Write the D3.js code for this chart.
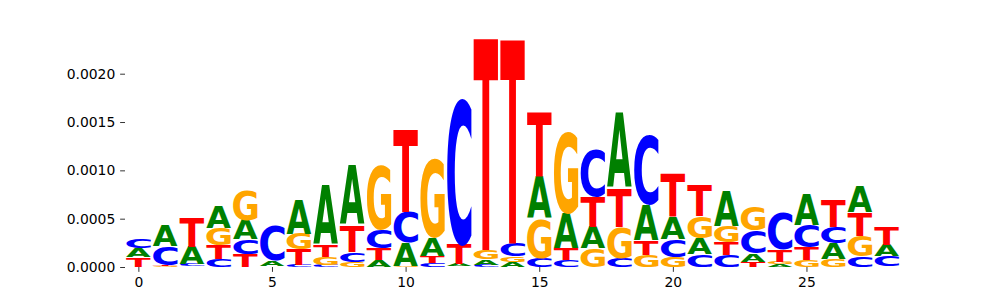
<!DOCTYPE html>
<html>
<head>
<meta charset="utf-8">
<script src="https://cdn.jsdelivr.net/npm/d3@7"></script>
<style>
  body { margin: 0; background: #fff; }
  svg { display: block; }
  .tick text { font-family: "DejaVu Sans", sans-serif; font-size: 13.9px; fill: #000; }
  .tick line { stroke: #000; stroke-width: 0.8px; }
</style>
</head>
<body>
<div id="chart"></div>
<script>
// letter heights per position
const positions = d3.range(29);
const letters = ["A", "C", "G", "T"];
const valsA = [0.000097, 0.000217, 0.000186, 0.000224, 0.000199, 0.000055, 0.000351, 0.000619, 0.000619, 0.000072,
               0.000244, 0.000189, 0.000021, 0.000059, 0.000048, 0.000436, 0.000361, 0.000224, 0.000780, 0.000361,
               0.000234, 0.000165, 0.000371, 0.000086, 0.000026, 0.000327, 0.000165, 0.000268, 0.000121];
const valsC = [0.000099, 0.000196, 0.000021, 0.000079, 0.000155, 0.000361, 0.000021, 0.000021, 0.000103, 0.000189,
               0.000315, 0.000038, 0.001529, 0.000021, 0.000137, 0.000090, 0.000072, 0.000488, 0.000090, 0.000722,
               0.000178, 0.000131, 0.000124, 0.000240, 0.000395, 0.000230, 0.000172, 0.000113, 0.000106];
const valsG = [0.000003, 0.000010, 0.000005, 0.000182, 0.000309, 0.000003, 0.000162, 0.000086, 0.000055, 0.000670,
               0.000010, 0.000825, 0.000005, 0.000096, 0.000059, 0.000412, 0.000859, 0.000193, 0.000327, 0.000124,
               0.000106, 0.000230, 0.000162, 0.000247, 0.000029, 0.000072, 0.000079, 0.000206, 0.000005];
const valsT = [0.000096, 0.000010, 0.000299, 0.000144, 0.000131, 0.000005, 0.000158, 0.000121, 0.000275, 0.000121,
               0.000860, 0.000069, 0.000206, 0.002214, 0.002131, 0.000670, 0.000121, 0.000309, 0.000395, 0.000155,
               0.000446, 0.000320, 0.000137, 0.000055, 0.000121, 0.000131, 0.000292, 0.000247, 0.000189];
const yTicks = [0, 0.0005, 0.0010, 0.0015, 0.0020];
const xTicks = [0, 5, 10, 15, 20, 25];

const colors = { A: "#008000", C: "#0000ff", G: "#ffa500", T: "#ff0000" };
const series = { A: valsA, C: valsC, G: valsG, T: valsT };

const width = 1000, height = 300;
const margin = { left: 125, right: 100, top: 36, bottom: 33 };

// stack letters at each position, smallest at the bottom
const glyphs = [];
positions.forEach(i => {
    const col = letters.map(l => ({ letter: l, value: series[l][i] }))
        .sort((a, b) => a.value - b.value);
    let floor = 0;
    col.forEach(d => {
        glyphs.push({ pos: i, letter: d.letter, y0: floor, y1: floor + d.value });
        floor += d.value;
    });
});
const ymax = d3.max(positions, i => letters.reduce((s, l) => s + series[l][i], 0));

const x = d3.scaleLinear().domain([-0.5, positions.length - 0.5]).range([margin.left, width - margin.right]);
const y = d3.scaleLinear().domain([0, ymax]).range([height - margin.bottom, margin.top]);

const svg = d3.select("#chart").append("svg")
    .attr("width", width)
    .attr("height", height);

// measure tight glyph boxes so each letter can be stretched to fill its cell
const fontSpec = "bold 100px 'DejaVu Sans'";
const ctx = document.createElement("canvas").getContext("2d");
ctx.font = fontSpec;
const boxes = {};
letters.forEach(l => {
    const m = ctx.measureText(l);
    boxes[l] = {
        left: m.actualBoundingBoxLeft, right: m.actualBoundingBoxRight,
        ascent: m.actualBoundingBoxAscent, descent: m.actualBoundingBoxDescent
    };
});

const glyphWidth = 0.92;

svg.append("g").attr("class", "glyphs")
    .selectAll("text")
    .data(glyphs)
    .enter()
    .append("text")
    .text(d => d.letter)
    .attr("fill", d => colors[d.letter])
    .style("font", fontSpec)
    .attr("transform", d => {
        const b = boxes[d.letter];
        const x0 = x(d.pos - glyphWidth / 2);
        const w = x(d.pos + glyphWidth / 2) - x0;
        const top = y(d.y1);
        const h = y(d.y0) - top;
        const sx = w / (b.left + b.right);
        const sy = h / (b.ascent + b.descent);
        return `translate(${x0 + b.left * sx},${top + b.ascent * sy}) scale(${sx},${sy})`;
    });

const tick = 4.86;

svg.append("g")
    .attr("transform", `translate(${margin.left},0)`)
    .call(d3.axisLeft(y).tickValues(yTicks).tickFormat(d3.format(".4f")).tickSize(tick).tickPadding(tick))
    .call(g => g.select(".domain").remove());

svg.append("g")
    .attr("transform", `translate(0,${height - margin.bottom})`)
    .call(d3.axisBottom(x).tickValues(xTicks).tickFormat(d3.format("d")).tickSize(tick).tickPadding(tick))
    .call(g => g.select(".domain").remove());
</script>
</body>
</html>
